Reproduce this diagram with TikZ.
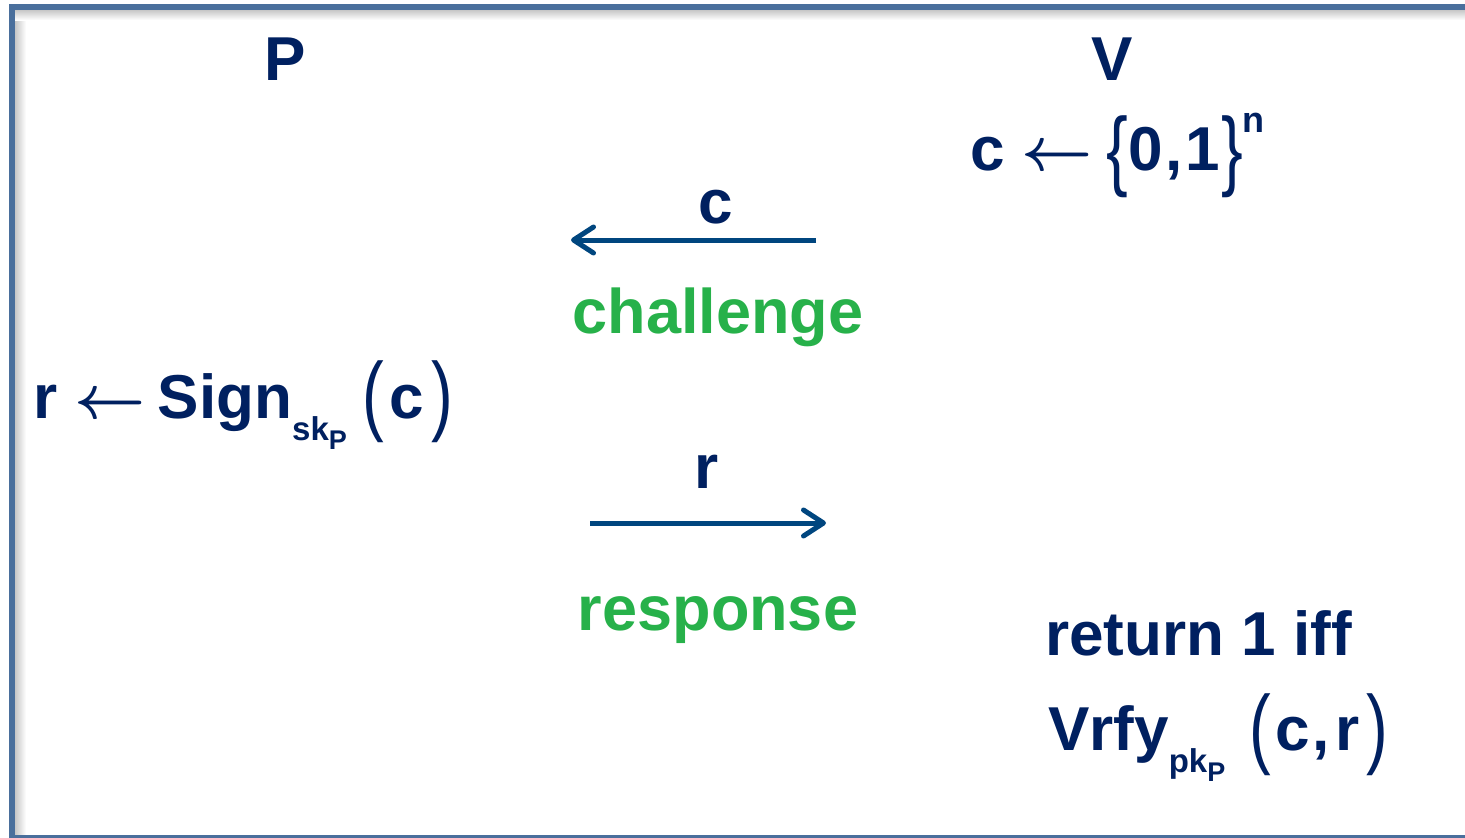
\documentclass[tikz,border=0pt]{standalone}
\usepackage{fix-cm}
\usepackage{amsmath}
\usepackage{graphicx}
\usepackage{fontspec}
\setmainfont[Kerning=Off]{Liberation Sans}
\usetikzlibrary{arrows.meta}
\definecolor{navy}{HTML}{002060}
\definecolor{arrowblue}{HTML}{00467F}
\definecolor{grn}{HTML}{27B14A}
\definecolor{framecol}{HTML}{4A6F9C}
% tall thin delimiters
\newcommand{\dlim}[2][-6pt]{\raisebox{#1}{\scalebox{1.05}[1.42]{\fontsize{62}{62}\fontseries{m}\selectfont #2}}}
\newcommand{\subA}[1]{\raisebox{-22pt}{\fontsize{33}{33}\selectfont #1}}
\newcommand{\subB}[1]{\raisebox{-9pt}{\fontsize{27}{27}\selectfont #1}}
\newcommand{\larr}{$\boldsymbol{\leftarrow}$}
\tikzset{
  txt/.style={inner sep=0pt, text=navy, font=\fontsize{62}{70}\selectfont\bfseries},
  lbl/.style={inner sep=0pt, anchor=base, text=grn, font=\fontsize{63}{70}\selectfont\bfseries},
  msg/.style={draw=arrowblue, line width=5pt, -{Straight Barb[length=20pt,width=26pt,round]}}
}
\begin{document}
\begin{tikzpicture}[x=1pt,y=-1pt]
\useasboundingbox (0,0) rectangle (1465,838);
\clip (0,0) rectangle (1465,838);
\fill[white] (0,0) rectangle (1465,838);
\shade[left color=black!22, right color=white] (15,10) rectangle (26,838);
\shade[top color=black!22, bottom color=white] (15,10) rectangle (1465,20);
\draw[framecol, line width=6pt] (12,7) rectangle (1490,838);

\node[txt, anchor=base] (P) at (285,80) {P};
\node[txt, anchor=base] (V) at (1112,80) {V};

\node[txt, anchor=base west] (samp) at (970,170)
  {c \larr\hspace{13pt}\dlim[-9pt]{\{}\hspace{1pt}0\hspace{2pt},\hspace{3pt}1\hspace{1pt}\dlim[-9pt]{\}}\raisebox{38pt}{\fontsize{36}{36}\selectfont n}};

\node[txt, anchor=base] (clab) at (716,223) {c};
\coordinate (cfrom) at (816,240);
\coordinate (cto) at (571,240);
\draw[msg] (cfrom) -- (cto);
\node[lbl] (chal) at (718,333) {challenge};

\node[txt, anchor=base west] (sign) at (33,418)
  {r \larr\hspace{12pt}Sign\subA{sk\subB{P}}\hspace{16pt}\dlim{(}\hspace{5pt}c\hspace{7pt}\dlim{)}};

\node[txt, anchor=base] (rlab) at (707,488) {r};
\coordinate (rfrom) at (590,523);
\coordinate (rto) at (826,523);
\draw[msg] (rfrom) -- (rto);
\node[lbl] (resp) at (718,630) {response};

\node[txt, anchor=base west] (ret) at (1045,655) {return 1 iff};
\node[txt, anchor=base west] (vrfy) at (1048,750)
  {Vrfy\subA{pk\subB{P}}\hspace{24pt}\dlim[-7pt]{(}\hspace{4pt}c\hspace{3pt},\hspace{6pt}r\hspace{7pt}\dlim[-7pt]{)}};
\end{tikzpicture}
\end{document}
